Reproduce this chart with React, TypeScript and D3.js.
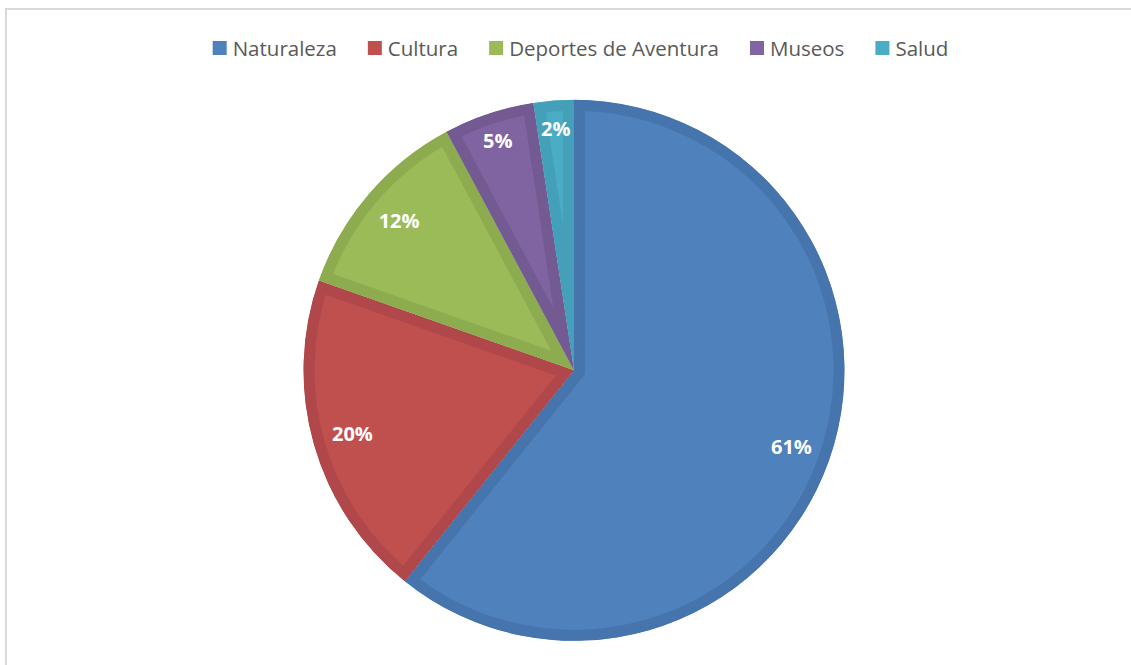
import React from "react";
import * as d3 from "d3";

const categories = ["Naturaleza", "Cultura", "Deportes de Aventura", "Museos", "Salud"];
const values = [60.7, 19.6, 11.8, 5.4, 2.4];
const fillColors = ["#4F81BD", "#C0504D", "#9BBB59", "#8064A2", "#4BACC6"];
const edgeColors = ["#4675AE", "#B0474A", "#8DAC4F", "#735A93", "#43A0B8"];

const W = 1131;
const H = 665;
const CX = 574;
const CY = 370.3;
const R = 270.5;
const BORDER = 11;

function measure(text: string, font: string): number {
  const c = document.createElement("canvas");
  const ctx = c.getContext("2d");
  if (!ctx) return text.length * 9;
  ctx.font = font;
  return ctx.measureText(text).width;
}

export default function App() {
  const total = d3.sum(values);
  const pie = d3
    .pie<number>()
    .sort(null)
    .startAngle(0)
    .endAngle(2 * Math.PI)
    .value((d) => d);
  const arcs = pie(values);
  const arcGen = d3.arc<d3.PieArcDatum<number>>().innerRadius(0).outerRadius(R);

  const legendFontSize = 20.5;
  const legendFont = `${legendFontSize}px 'Open Sans'`;
  const sq = 14;
  const gapSq = 6;
  const gapItem = 31;
  const widths = categories.map((c) => measure(c, legendFont));
  const itemW = widths.map((w) => sq + gapSq + w);
  const totalW = d3.sum(itemW) + gapItem * (categories.length - 1);
  let lx = 580.5 - totalW / 2;
  const legendX = itemW.map((w) => {
    const x = lx;
    lx += w + gapItem;
    return x;
  });

  return (
    <svg
      width={W}
      height={H}
      style={{ position: "absolute", left: 0, top: 0, background: "#fff" }}
    >
      <rect x={6} y={9} width={W + 20} height={H + 20} fill="#fff" stroke="#D9D9D9" strokeWidth={2} />
      <g transform={`translate(${CX},${CY})`}>
        <defs>
          {arcs.map((a, i) => (
            <clipPath id={`clip${i}`} key={i}>
              <path d={arcGen(a) || ""} />
            </clipPath>
          ))}
        </defs>
        {arcs.map((a, i) => (
          <path
            key={i}
            d={arcGen(a) || ""}
            fill={fillColors[i]}
            stroke={edgeColors[i]}
            strokeWidth={BORDER * 2}
            strokeLinejoin="miter"
            clipPath={`url(#clip${i})`}
          />
        ))}
        {arcs.map((a, i) => {
          const frac = a.value / total;
          const lr = frac < 0.06 ? R * 0.895 : R * 0.852;
          const mid = (a.startAngle + a.endAngle) / 2;
          const x = lr * Math.sin(mid);
          const y = -lr * Math.cos(mid);
          return (
            <text
              key={`t${i}`}
              x={x}
              y={y}
              textAnchor="middle"
              dominantBaseline="central"
              fill="#fff"
              fontFamily="'Open Sans'"
              fontWeight="bold"
              fontSize={20}
            >
              {`${Math.round(frac * 100)}%`}
            </text>
          );
        })}
      </g>
      <g>
        {categories.map((c, i) => (
          <g key={c}>
            <rect x={legendX[i]} y={41} width={sq} height={sq} fill={fillColors[i]} />
            <text
              x={legendX[i] + sq + gapSq}
              y={48}
              dominantBaseline="central"
              fill="#595959"
              fontFamily="'Open Sans'"
              fontSize={legendFontSize}
            >
              {c}
            </text>
          </g>
        ))}
      </g>
    </svg>
  );
}
